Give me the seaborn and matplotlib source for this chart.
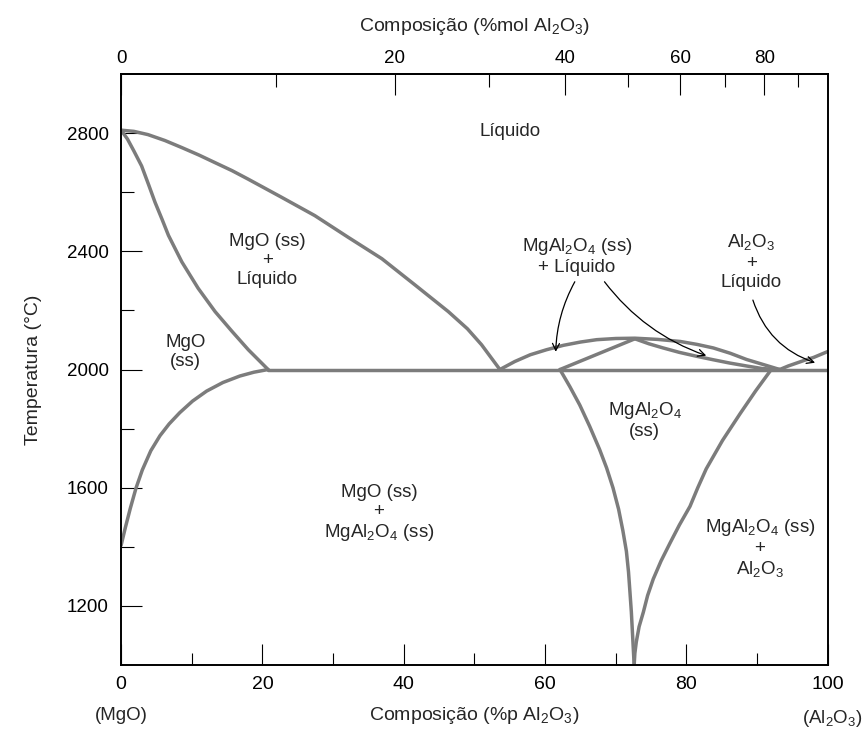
import numpy as np
import pandas as pd
import matplotlib
matplotlib.use('Agg')
import matplotlib.pyplot as plt
import seaborn as sns

# phase boundaries (wt% Al2O3, degC)
liq_mgo_x = [0, 1.8, 3.8, 6.2, 8.6, 11.0, 13.3, 15.7, 18.0, 22.7, 27.4, 32.1, 36.9, 41.6, 46.3, 49.0, 51.0, 53.6]
liq_mgo_t = [2810, 2806, 2795, 2775, 2751, 2726, 2700, 2673, 2644, 2583, 2521, 2448, 2375, 2286, 2196, 2138, 2084, 2000]

sol_mgo_x = [0, 0.9, 1.8, 2.9, 3.9, 4.8, 5.8, 6.7, 8.6, 10.9, 13.3, 15.7, 18.0, 20.8]
sol_mgo_t = [2810, 2780, 2740, 2689, 2625, 2566, 2508, 2454, 2364, 2275, 2196, 2129, 2067, 2000]

solv_mgo_x = [20.8, 18.8, 16.8, 14.4, 12.1, 10.1, 8.3, 6.8, 5.5, 4.2, 3.0, 2.1, 1.3, 0.6, 0]
solv_mgo_t = [2000, 1991, 1978, 1956, 1927, 1893, 1854, 1816, 1776, 1725, 1660, 1598, 1530, 1465, 1405]

eut_x = [20.8, 100]
eut_t = [2000, 2000]

liq_sp_x = [53.6, 55.7, 57.9, 60.2, 62.6, 65.0, 67.3, 70.0, 72.7, 75.9, 79.1, 81.5, 83.8, 86.2, 88.5, 91.0, 93.2]
liq_sp_t = [2000, 2027, 2050, 2067, 2082, 2093, 2101, 2105, 2106, 2102, 2095, 2085, 2073, 2055, 2034, 2016, 2000]

sol_sp_l_x = [62.1, 72.7]
sol_sp_l_t = [2000, 2104]

sol_sp_r_x = [72.7, 74.7, 76.7, 79.0, 81.4, 83.8, 86.1, 88.5, 90.8, 93.2]
sol_sp_r_t = [2104, 2087, 2073, 2058, 2045, 2033, 2022, 2012, 2003, 2000]

solv_sp_l_x = [62.1, 63.5, 64.9, 66.3, 67.7, 68.7, 69.6, 70.4, 71.0, 71.5, 71.8, 72.0, 72.2, 72.4, 72.6]
solv_sp_l_t = [2000, 1942, 1880, 1808, 1730, 1667, 1600, 1527, 1455, 1385, 1315, 1248, 1180, 1090, 1000]

solv_sp_r_x = [72.6, 72.7, 72.9, 73.3, 73.9, 74.5, 75.3, 76.4, 77.7, 79.0, 80.5, 81.6, 82.8, 85.1, 87.6, 89.8, 92.0]
solv_sp_r_t = [1000, 1040, 1078, 1130, 1179, 1235, 1291, 1352, 1414, 1474, 1537, 1600, 1664, 1760, 1851, 1928, 2000]

liq_al_x = [93.2, 94.4, 95.6, 96.8, 98.0, 100]
liq_al_t = [2000, 2012, 2022, 2032, 2041, 2061]

curves = {
    'liq_mgo': (liq_mgo_x, liq_mgo_t),
    'sol_mgo': (sol_mgo_x, sol_mgo_t),
    'solv_mgo': (solv_mgo_x, solv_mgo_t),
    'eut': (eut_x, eut_t),
    'liq_sp': (liq_sp_x, liq_sp_t),
    'sol_sp_l': (sol_sp_l_x, sol_sp_l_t),
    'sol_sp_r': (sol_sp_r_x, sol_sp_r_t),
    'solv_sp_l': (solv_sp_l_x, solv_sp_l_t),
    'solv_sp_r': (solv_sp_r_x, solv_sp_r_t),
    'liq_al': (liq_al_x, liq_al_t),
}
df = pd.concat([pd.DataFrame({'x': xs, 'T': ts, 'curve': name})
                for name, (xs, ts) in curves.items()], ignore_index=True)

SUB2 = r'$_\mathregular{2}$'
SUB3 = r'$_\mathregular{3}$'
SUB4 = r'$_\mathregular{4}$'
AL2O3 = 'Al' + SUB2 + 'O' + SUB3
SPINEL = 'MgAl' + SUB2 + 'O' + SUB4

sns.set_style('ticks')
plt.rcParams['font.family'] = ['Liberation Sans', 'DejaVu Sans']

fig = plt.figure(figsize=(8.65, 7.5), dpi=100)
ax = fig.add_axes([0.140, 0.1133, 0.817, 0.788])

sns.lineplot(data=df, x='x', y='T', units='curve', estimator=None, sort=False,
             color='#7c7c7c', lw=2.5, ax=ax, legend=False)

ax.set_xlim(0, 100)
ax.set_ylim(1000, 3000)
for s in ax.spines.values():
    s.set_linewidth(1.4)
    s.set_color('black')

ax.set_xticks([0, 20, 40, 60, 80, 100])
ax.set_xticks([10, 30, 50, 70, 90], minor=True)
ax.set_yticks([1200, 1600, 2000, 2400, 2800])
ax.set_yticks([1400, 1800, 2200, 2600], minor=True)
ax.tick_params(which='both', direction='in', top=False, right=False, width=0.8, colors='black')
ax.tick_params(which='major', length=15)
ax.tick_params(which='minor', length=9)
ax.tick_params(axis='x', which='major', pad=8, labelsize=14)
ax.tick_params(axis='y', which='major', pad=9, labelsize=13.5)

ax.set_xlabel('Composição (%p ' + AL2O3 + ')', fontsize=14)
ax.xaxis.set_label_coords(0.5, -0.086)
ax.xaxis.label.set_va('center')
ax.set_ylabel('Temperatura (°C)', fontsize=14)
ax.yaxis.set_label_coords(-0.124, 0.5)
ax.yaxis.label.set_va('center')

ax.text(0, -0.086, '(MgO)', transform=ax.get_xaxis_transform(), ha='center', va='center', fontsize=13.5)
ax.text(100.7, -0.09, '(' + AL2O3 + ')', transform=ax.get_xaxis_transform(), ha='center', va='center', fontsize=13.5)


def wt2mol(w):
    w = np.asarray(w, dtype=float)
    a = w / 101.96
    b = (100 - w) / 40.30
    return 100 * a / np.where(a + b == 0, 1, a + b)


def mol2wt(m):
    m = np.asarray(m, dtype=float)
    a = m * 101.96
    b = (100 - m) * 40.30
    return 100 * a / np.where(a + b == 0, 1, a + b)


sec = ax.secondary_xaxis('top', functions=(wt2mol, mol2wt))
sec.set_xticks([0, 20, 40, 60, 80])
sec.set_xticks([10, 30, 50, 70, 90], minor=True)
sec.tick_params(which='both', direction='in', width=0.8, colors='black')
sec.tick_params(which='major', length=15, pad=5, labelsize=13.5)
sec.tick_params(which='minor', length=9)
sec.spines['top'].set_linewidth(1.4)
sec.set_xlabel('Composição (%mol ' + AL2O3 + ')', fontsize=14, labelpad=14)

# region labels
lab = dict(ha='center', va='center', fontsize=13.5, linespacing=1.15, multialignment='center')
ax.text(55.0, 2807, 'Líquido', **lab)
ax.text(20.7, 2370, 'MgO (ss)\n+\nLíquido', **lab)
ax.text(9.1, 2060, 'MgO\n(ss)', **lab)
ax.text(64.5, 2385, SPINEL + ' (ss)\n+ Líquido', **lab)
ax.text(89.2, 2363, AL2O3 + '\n+\nLíquido', **lab)
ax.text(74.1, 1829, SPINEL + '\n(ss)', **lab)
ax.text(36.5, 1513, 'MgO (ss)\n+\n' + SPINEL + ' (ss)', **lab)
ax.text(90.4, 1395, SPINEL + ' (ss)\n+\n' + AL2O3, **lab)

arrow = dict(arrowstyle='->,head_length=0.5,head_width=0.25', color='black', lw=0.9, shrinkA=0, shrinkB=0)
ax.annotate('', xy=(61.5, 2060), xytext=(64.2, 2297),
            arrowprops=dict(connectionstyle='arc3,rad=0.12', **arrow))
ax.annotate('', xy=(82.8, 2047), xytext=(68.4, 2297),
            arrowprops=dict(connectionstyle='arc3,rad=0.15', **arrow))
ax.annotate('', xy=(98.2, 2023), xytext=(89.4, 2235),
            arrowprops=dict(connectionstyle='arc3,rad=0.25', **arrow))

plt.savefig('out.png', dpi=100)
